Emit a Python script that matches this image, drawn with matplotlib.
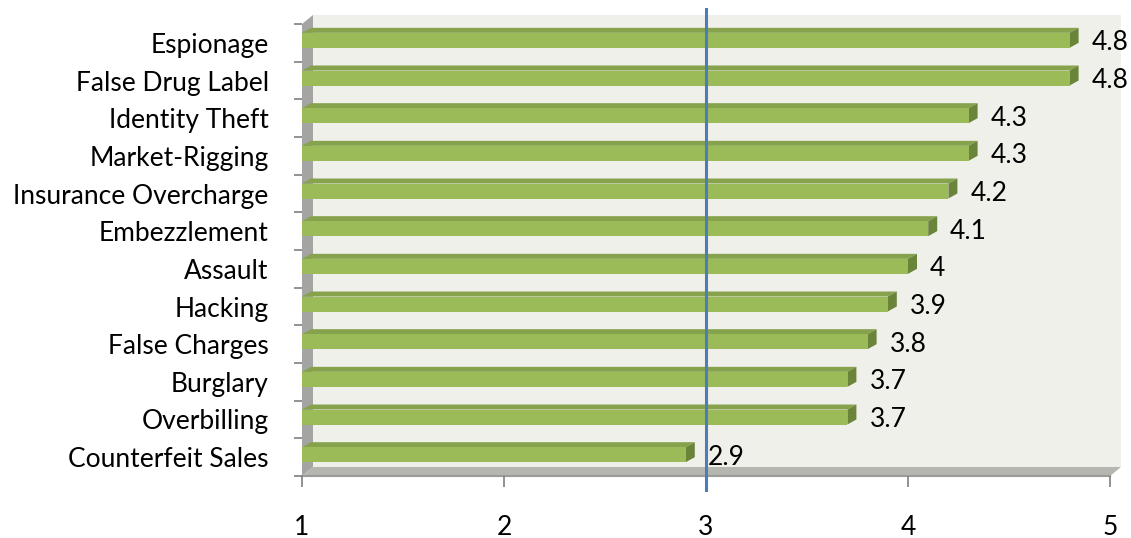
import numpy as np
import matplotlib
matplotlib.use("Agg")
import matplotlib.pyplot as plt
from matplotlib.patches import Polygon
from matplotlib.transforms import blended_transform_factory

categories = ["Counterfeit Sales", "Overbilling", "Burglary", "False Charges",
              "Hacking", "Assault", "Embezzlement", "Insurance Overcharge",
              "Market-Rigging", "Identity Theft", "False Drug Label", "Espionage"]
values = [2.9, 3.7, 3.7, 3.8, 3.9, 4.0, 4.1, 4.2, 4.3, 4.3, 4.8, 4.8]
value_labels = ["2.9", "3.7", "3.7", "3.8", "3.9", "4", "4.1", "4.2", "4.3", "4.3", "4.8", "4.8"]
x_ticks = [1, 2, 3, 4, 5]
ref_line = 3

FONT = "Lato"
FS = 19

W, H, DPI = 1131, 538, 100
fig = plt.figure(figsize=(W / DPI, H / DPI), dpi=DPI)

# axes placement in pixels
x0, x1 = 302, 1110
y_top, y_bot = 24, 476
ax = fig.add_axes([x0 / W, (H - y_bot) / H, (x1 - x0) / W, (y_bot - y_top) / H])
ax_w, ax_h = x1 - x0, y_bot - y_top

n = len(categories)
ax.set_xlim(1, 5)
ax.set_ylim(-0.5, n - 0.5)
for s in ax.spines.values():
    s.set_visible(False)
ax.set_facecolor("none")

# 3D wall depth (pixels -> axes fraction)
wdx, wdy = 11 / ax_w, 9 / ax_h
back = Polygon([(wdx, wdy), (1 + wdx, wdy), (1 + wdx, 1 + wdy), (wdx, 1 + wdy)],
               closed=True, transform=ax.transAxes, facecolor="#f0f0ea",
               edgecolor="none", clip_on=False, zorder=0)
ax.add_patch(back)
side = Polygon([(0, 0), (0, 1), (wdx, 1 + wdy), (wdx, wdy)], closed=True,
               transform=ax.transAxes, facecolor="#a4a5a2", edgecolor="none",
               clip_on=False, zorder=0.5)
ax.add_patch(side)
floor = Polygon([(0, 0), (1, 0), (1 + wdx, wdy), (wdx, wdy)], closed=True,
                transform=ax.transAxes, facecolor="#b5b6b0", edgecolor="none",
                clip_on=False, zorder=0.5)
ax.add_patch(floor)
ax.plot([0, 1], [0, 0], transform=ax.transAxes, color="#9a9b96", lw=1.5,
        clip_on=False, zorder=0.6)

# bars with a little 3D depth
px_x = 4 / ax_w           # data units per pixel (x)
px_y = n / ax_h           # data units per pixel (y)
bh = 15 * px_y
shift = 2.5 * px_y
bdx, bdy = 9 * px_x, 5 * px_y
ypos = np.arange(n)
for y, v in zip(ypos, values):
    yb = y + shift - bh / 2
    yt = y + shift + bh / 2
    ax.add_patch(Polygon([(1, yt), (v, yt), (v + bdx, yt + bdy), (1 + bdx, yt + bdy)],
                         closed=True, facecolor="#86a24d", edgecolor="none", zorder=2))
    ax.add_patch(Polygon([(v, yb), (v + bdx, yb + bdy), (v + bdx, yt + bdy), (v, yt)],
                         closed=True, facecolor="#6a843a", edgecolor="none", zorder=2))
ax.barh(ypos + shift, [v - 1 for v in values], left=1, height=bh,
        color="#9bbb59", edgecolor="none", zorder=3)

for y, v, lab in zip(ypos, values, value_labels):
    ax.annotate(lab, (v, y), xytext=(22, 0), textcoords="offset pixels",
                ha="left", va="center", fontsize=FS, family=FONT, color="black",
                zorder=5)

# reference line
tr = blended_transform_factory(ax.transData, ax.transAxes)
ax.plot([ref_line, ref_line], [(y_bot - 490) / ax_h, (y_bot - 9) / ax_h],
        transform=tr, color="#4a7ebb", lw=2.2, clip_on=False, zorder=6)

# ticks
ax.set_yticks(ypos)
ax.set_yticklabels(categories, fontsize=FS, family=FONT)
ax.set_yticks(np.arange(-0.5, n, 1), minor=True)
ax.tick_params(axis="y", which="major", length=0, pad=24)
ax.tick_params(axis="y", which="minor", length=6, width=1.2, color="#7f7f7f",
               direction="out")
ax.set_xticks(x_ticks)
ax.set_xticklabels([str(t) for t in x_ticks], fontsize=FS, family=FONT)
ax.tick_params(axis="x", length=8, width=1.2, color="#7f7f7f", pad=20)

fig.savefig("out.png", dpi=DPI, facecolor="white")
